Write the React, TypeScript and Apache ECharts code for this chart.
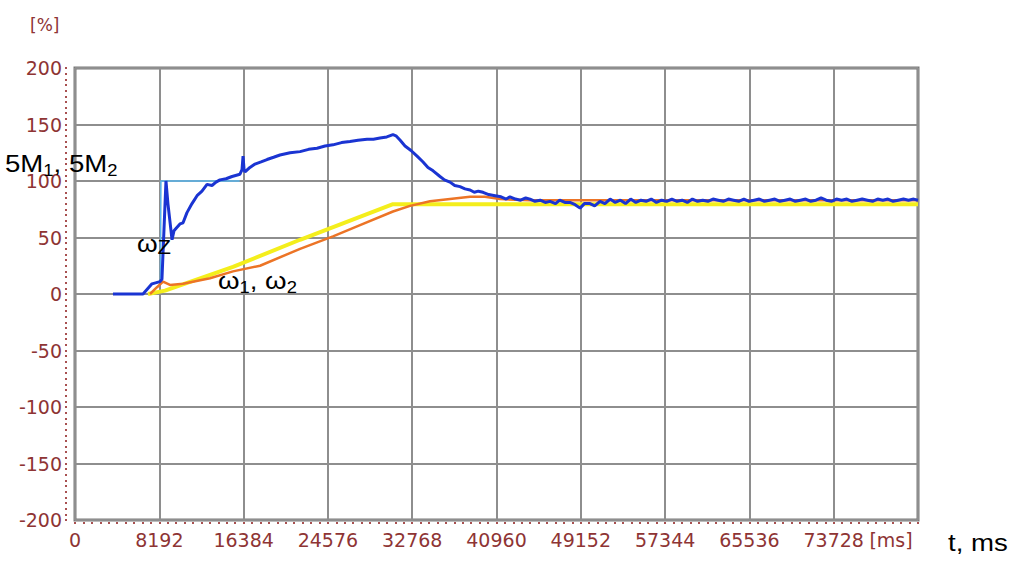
import React, { useEffect, useRef } from "react";
import * as echarts from "echarts";

// x-axis ticks (ms) and their labels
const xTickValues = [0, 8192, 16384, 24576, 32768, 40960, 49152, 57344, 65536, 73728, 81920];
const xTickLabels = ["0", "8192", "16384", "24576", "32768", "40960", "49152", "57344", "65536", "73728", "[ms]"];
const yTickValues = [-200, -150, -100, -50, 0, 50, 100, 150, 200];

// 5M1, 5M2 (blue)
const mSeries: [number, number][] = [
  [3690, 0], [6610, 0], [7480, 9], [8260, 11], [8450, 13], [8840, 100], [9030, 80], [9430, 48],
  [9620, 56], [9810, 58], [10200, 62], [10500, 63], [10880, 72], [11370, 80], [11860, 87],
  [12340, 91], [12830, 97], [13310, 96], [13700, 99], [14090, 101], [14680, 102], [15260, 104],
  [16030, 106], [16230, 110], [16330, 122], [16430, 110], [16520, 108], [17000, 112], [17490, 115],
  [18080, 117], [18660, 119], [19300, 121], [19920, 123], [20900, 125], [21870, 126], [22700, 128],
  [23520, 129], [24300, 131], [25070, 132], [25900, 134], [26720, 135], [27500, 136], [28380, 137],
  [29000, 137], [29640, 138], [30300, 139], [30900, 141], [31190, 140], [31600, 136], [32070, 131],
  [32650, 127], [33240, 122], [33800, 117], [34300, 112], [34800, 109], [35470, 104], [35900, 101],
  [36440, 99], [36900, 96], [37410, 95], [37900, 93], [38390, 92], [38800, 90], [39200, 91],
  [39650, 90], [40200, 88], [40820, 87], [41400, 86], [41900, 84], [42270, 86], [42800, 84],
  [43300, 83], [43800, 85], [44220, 84], [44700, 82], [45200, 83], [45700, 81], [46160, 82],
  [46700, 80], [47100, 83], [47600, 81], [48100, 81], [48600, 79], [49080, 76], [49500, 80],
  [50050, 80], [50500, 78], [51020, 82], [51500, 80], [52000, 84], [52500, 81], [53000, 83],
  [53500, 80], [54000, 84], [54500, 81], [55000, 83], [55500, 82], [56000, 84], [56500, 81],
  [57000, 83], [57500, 82], [58000, 84], [58500, 82], [59000, 83], [59500, 81], [60000, 84],
  [60500, 82], [61000, 83], [61500, 82], [62000, 84], [62500, 83], [63000, 82], [63500, 84],
  [64000, 83], [64500, 82], [65000, 84], [65500, 82], [66000, 83], [66500, 84], [67000, 82],
  [67500, 83], [68000, 84], [68500, 82], [69000, 83], [69500, 84], [70000, 82], [70500, 83],
  [71000, 84], [71500, 82], [72000, 83], [72500, 85], [73000, 83], [73500, 82], [74000, 84],
  [74500, 83], [75000, 84], [75500, 82], [76000, 83], [76500, 84], [77000, 83], [77500, 82],
  [78000, 84], [78500, 83], [79000, 84], [79500, 82], [80000, 83], [80500, 84], [81000, 83],
  [81500, 84], [81920, 83],
];

// ωZ (light blue, thin)
const wzSeries: [number, number][] = [
  [7900, 10], [8300, 11], [8350, 100], [16000, 100],
];

// ω reference (yellow)
const wRefSeries: [number, number][] = [
  [7094, 0], [8746, 3], [15354, 24], [21866, 48], [30903, 79.5], [81920, 79.5],
];

// ω1, ω2 (orange)
const w12Series: [number, number][] = [
  [7290, 0], [7970, 6], [8550, 11], [9230, 8], [10500, 9], [13120, 14], [15350, 20],
  [17980, 25], [21870, 40], [25070, 51], [27700, 61], [30900, 73], [32560, 78], [34500, 82],
  [36440, 84], [38390, 86], [39840, 86], [41300, 84], [44220, 83], [81920, 83],
];

const LABEL_COLOR = "#8e3434";
const TICK_COLOR = "#a85050";
const GRID_COLOR = "#8e8e8e";

export default function App() {
  const ref = useRef<HTMLDivElement>(null);

  useEffect(() => {
    if (!ref.current) return;
    const chart = echarts.init(ref.current, undefined, { renderer: "svg" });

    const annoRich = (subSize: number) => ({
      m: { fontSize: 24, lineHeight: 28, fontFamily: "Liberation Sans, Arial", color: "#000", verticalAlign: "middle" },
      s: { fontSize: subSize, lineHeight: subSize, fontFamily: "Liberation Sans, Arial", color: "#000", verticalAlign: "bottom" },
    });

    const option: any = {
      animation: false,
      backgroundColor: "#fff",
      grid: {
        left: 75,
        right: 98,
        top: 68,
        bottom: 54,
        show: true,
        borderColor: "#7a7a7a",
        borderWidth: 3,
        backgroundColor: "#fff",
      },
      xAxis: {
        type: "value",
        min: 0,
        max: 81920,
        interval: 8192,
        offset: 2,
        axisLine: { show: false, onZero: false },
        axisTick: { show: true, length: 2, lineStyle: { color: TICK_COLOR, width: 2 } },
        minorTick: { show: true, splitNumber: 10, length: 2, lineStyle: { color: TICK_COLOR, width: 2 } },
        splitLine: { show: true, lineStyle: { color: GRID_COLOR, width: 2 } },
        axisLabel: {
          margin: 8,
          color: LABEL_COLOR,
          fontFamily: "DejaVu Sans",
          fontSize: 19,
          showMaxLabel: true,
          showMinLabel: true,
          formatter: (v: number) => {
            const i = xTickValues.indexOf(v);
            const t = i >= 0 ? xTickLabels[i] : "";
            return i === xTickValues.length - 1 ? "{ms|" + t + "}" : t;
          },
          rich: {
            ms: { color: LABEL_COLOR, fontFamily: "DejaVu Sans", fontSize: 19, padding: [0, 54, 0, 0] },
          },
        },
      },
      yAxis: {
        type: "value",
        min: -200,
        max: 200,
        interval: 50,
        offset: 8,
        axisLine: { show: false, onZero: false },
        axisTick: { show: true, length: 2, lineStyle: { color: TICK_COLOR, width: 2 } },
        minorTick: { show: true, splitNumber: 10, length: 2, lineStyle: { color: TICK_COLOR, width: 2 } },
        splitLine: { show: true, lineStyle: { color: GRID_COLOR, width: 2 } },
        axisLabel: {
          margin: 5,
          color: LABEL_COLOR,
          fontFamily: "DejaVu Sans",
          fontSize: 19,
          formatter: (v: number) => (yTickValues.indexOf(v) >= 0 ? String(v) : ""),
        },
      },
      series: [
        {
          name: "ω ref",
          type: "line",
          data: wRefSeries,
          showSymbol: false,
          silent: true,
          lineStyle: { color: "#f4ee1c", width: 4 },
          z: 2,
        },
        {
          name: "ω1, ω2",
          type: "line",
          data: w12Series,
          showSymbol: false,
          silent: true,
          lineStyle: { color: "#ec7426", width: 2.5 },
          z: 3,
        },
        {
          name: "ωZ",
          type: "line",
          data: wzSeries,
          showSymbol: false,
          silent: true,
          lineStyle: { color: "#58b6ee", width: 1.5 },
          z: 4,
        },
        {
          name: "5M1, 5M2",
          type: "line",
          data: mSeries,
          showSymbol: false,
          silent: true,
          lineStyle: { color: "#1a34d2", width: 3 },
          z: 5,
        },
      ],
      graphic: [
        {
          type: "text",
          x: 30,
          y: 16,
          style: { text: "[%]", fill: LABEL_COLOR, font: "17px 'DejaVu Sans'", align: "left", verticalAlign: "top" },
        },
        {
          type: "text",
          x: 5,
          y: 150,
          scaleX: 1.15,
          z: 100,
          style: { text: "{m|5M}{s|1}{m|, 5M}{s|2}", rich: annoRich(16), align: "left", verticalAlign: "top" },
        },
        {
          type: "text",
          x: 137,
          y: 229,
          scaleX: 1.1,
          z: 100,
          style: { text: "{m|ω}{s|Z}", rich: annoRich(20), align: "left", verticalAlign: "top" },
        },
        {
          type: "text",
          x: 218,
          y: 267,
          scaleX: 1.15,
          z: 100,
          style: { text: "{m|ω}{s|1}{m|, ω}{s|2}", rich: annoRich(16), align: "left", verticalAlign: "top" },
        },
        {
          type: "text",
          x: 948,
          y: 529,
          scaleX: 1.15,
          z: 100,
          style: { text: "{m|t, ms}", rich: annoRich(16), align: "left", verticalAlign: "top" },
        },
      ],
    };

    chart.setOption(option);
    return () => chart.dispose();
  }, []);

  return <div ref={ref} style={{ width: 1016, height: 574, position: "absolute", left: 0, top: 0 }} />;
}
